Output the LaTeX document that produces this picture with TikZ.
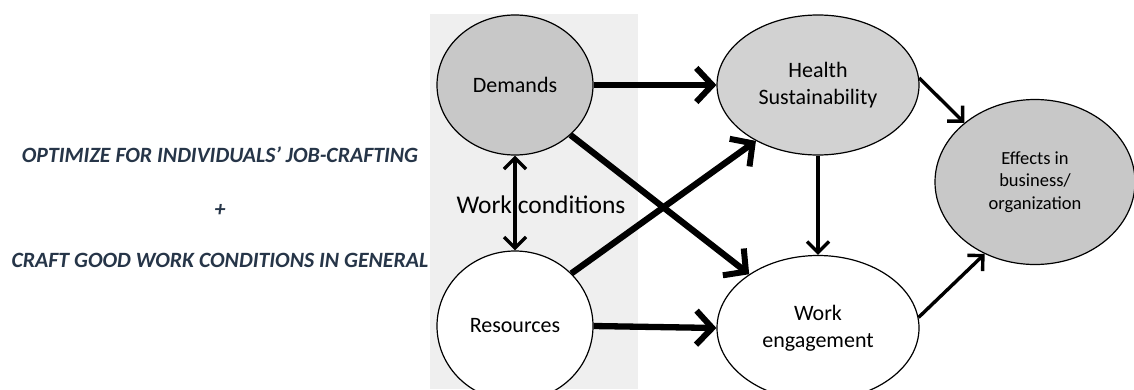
\documentclass[tikz,border=0pt]{standalone}
\usepackage{fontspec}
\setmainfont{Carlito}
\usetikzlibrary{arrows.meta,shapes.geometric}
\definecolor{panel}{HTML}{EFEFEF}
\definecolor{darkfill}{HTML}{C8C8C8}
\definecolor{lightfill}{HTML}{D2D2D2}
\definecolor{navytext}{HTML}{263548}
\tikzset{
  oval/.style={ellipse, draw=black, line width=1.2pt, inner sep=0pt, align=center, font=\fontsize{22}{27}\selectfont},
  thickarr/.style={line width=6.3pt, -{Straight Barb[length=16pt,width=34pt,line width=6pt]}},
  thinarr/.style={line width=3.4pt, -{Straight Barb[length=11pt,width=22pt,line width=3.4pt]}},
  dblarr/.style={line width=3.4pt, {Straight Barb[length=11pt,width=22pt,line width=3.4pt]}-{Straight Barb[length=11pt,width=22pt,line width=3.4pt]}},
  sidetext/.style={text=navytext, font=\fontsize{21.8}{26}\bfseries\itshape\selectfont}
}
\begin{document}
\begin{tikzpicture}[x=1pt,y=-1pt]
\useasboundingbox (0,0) rectangle (1134,389);
\fill[white] (0,0) rectangle (1134,389);
\fill[panel] (430,14) rectangle (638,389);
\node[sidetext] (t1) at (220,155) {OPTIMIZE FOR INDIVIDUALS’ JOB-CRAFTING};
\node[sidetext] (t2) at (220,210) {+};
\node[sidetext] (t3) at (220,260) {CRAFT GOOD WORK CONDITIONS IN GENERAL};
\node[oval, fill=darkfill, minimum width=156pt, minimum height=140pt] (D) at (515,85) {Demands};
\node[oval, fill=white, minimum width=156pt, minimum height=150pt] (R) at (515,326) {Resources};
\node[oval, fill=lightfill, minimum width=202pt, minimum height=140pt] (H) at (818,85) {Health\\Sustainability};
\node[oval, fill=white, minimum width=202pt, minimum height=145pt] (W) at (818,328) {Work\\engagement};
\node[oval, fill=darkfill, minimum width=200pt, minimum height=165pt, font=\fontsize{18.5}{22.5}\selectfont] (E) at (1035,182) {Effects in\\business/\\organization};
\draw[dblarr] (D.south) -- (R.north);
\node[font=\fontsize{25.5}{30}\selectfont] (wc) at (541,205) {Work conditions};
\draw[thickarr] (D.east) -- (H.west);
\draw[thickarr] (R.east) -- (W.west);
\draw[thickarr] (D.-42) -- (W.142);
\draw[thickarr] (R.43) -- (H.222);
\draw[thinarr] (H.south) -- (W.north);
\draw[thinarr] (H.4) -- (E.140);
\draw[thinarr] (W.6) -- (E.235);
\end{tikzpicture}
\end{document}
